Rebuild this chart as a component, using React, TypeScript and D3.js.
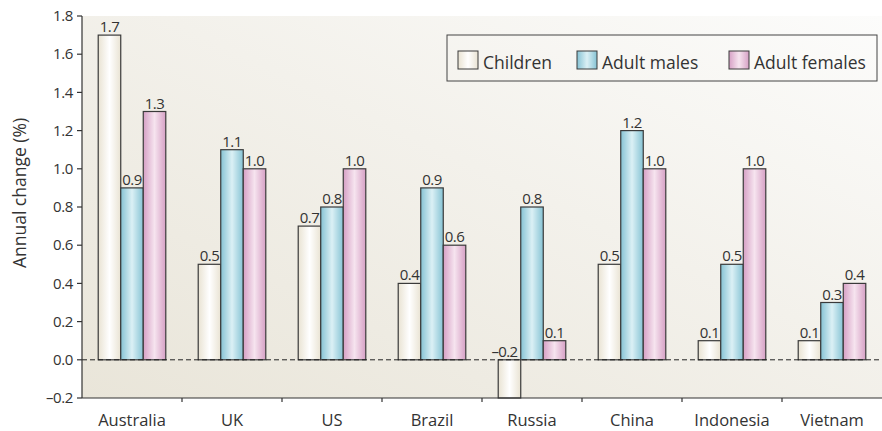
import React from "react";
import * as d3 from "d3";

const categories = ["Australia", "UK", "US", "Brazil", "Russia", "China", "Indonesia", "Vietnam"];
const seriesNames = ["Children", "Adult males", "Adult females"];
const children = [1.7, 0.5, 0.7, 0.4, -0.2, 0.5, 0.1, 0.1];
const adultMales = [0.9, 1.1, 0.8, 0.9, 0.8, 1.2, 0.5, 0.3];
const adultFemales = [1.3, 1.0, 1.0, 0.6, 0.1, 1.0, 1.0, 0.4];
const yTicks = [-0.2, 0, 0.2, 0.4, 0.6, 0.8, 1.0, 1.2, 1.4, 1.6, 1.8];

const W = 882;
const H = 431;
const M = { left: 82, right: 0, top: 16, bottom: 33 };
const FONT = "'Open Sans', 'Noto Sans', sans-serif";

const gradStops = [
  { edge: "#e9e3d3", mid: "#ffffff" },
  { edge: "#86c3d4", mid: "#dbf0f5" },
  { edge: "#d6a0c5", mid: "#f6e4ef" },
];

export default function App() {
  const series = [children, adultMales, adultFemales];
  const x0 = d3.scaleBand<string>().domain(categories).range([M.left, W - M.right]).paddingInner(0).paddingOuter(0);
  const x1 = d3.scaleBand<number>().domain([0, 1, 2]).range([0, x0.bandwidth()]).paddingOuter(0.72).paddingInner(0);
  const y = d3.scaleLinear().domain([-0.2, 1.8]).range([H - M.bottom, M.top]);
  const fmt = (v: number) => (v < 0 ? "\u2013" + Math.abs(v).toFixed(1) : v.toFixed(1));

  return (
    <svg width={W} height={H} style={{ position: "absolute", left: 0, top: 0 }} fontFamily={FONT}>
      <defs>
        <linearGradient id="bg" x1="0" y1="1" x2="1" y2="0">
          <stop offset="0%" stopColor="#e9e5d9" />
          <stop offset="55%" stopColor="#f3f1eb" />
          <stop offset="100%" stopColor="#fcfcfb" />
        </linearGradient>
        {gradStops.map((g, i) => (
          <linearGradient key={i} id={`bar${i}`} x1="0" y1="0" x2="1" y2="0">
            <stop offset="0%" stopColor={g.edge} />
            <stop offset="50%" stopColor={g.mid} />
            <stop offset="100%" stopColor={g.edge} />
          </linearGradient>
        ))}
      </defs>
      <rect x={M.left} y={M.top} width={W - M.left - M.right} height={H - M.bottom - M.top} fill="url(#bg)" />

      {/* bars */}
      {categories.map((c, ci) => (
        <g key={c} transform={`translate(${x0(c)},0)`}>
          {series.map((s, si) => {
            const v = s[ci];
            const top = y(Math.max(0, v));
            const bot = y(Math.min(0, v));
            const bx = x1(si)!;
            return (
              <g key={si}>
                <rect x={bx} y={top} width={x1.bandwidth()} height={bot - top} fill={`url(#bar${si})`} stroke="#3a3a3a" strokeWidth={1.2} />
                <text x={bx + x1.bandwidth() / 2 - (v < 0 ? 5 : 0)} y={(v < 0 ? y(0) : top) - 3} textAnchor="middle" fontSize={15} fill="#333" letterSpacing={-0.6}>
                  {fmt(v)}
                </text>
              </g>
            );
          })}
        </g>
      ))}

      {/* zero line */}
      <line x1={M.left} x2={W - M.right} y1={y(0)} y2={y(0)} stroke="#222" strokeWidth={1} strokeDasharray="5,3" />

      {/* y axis */}
      <line x1={M.left} x2={M.left} y1={M.top} y2={H - M.bottom} stroke="#333" strokeWidth={1.2} />
      {yTicks.map((t) => (
        <g key={t}>
          <line x1={M.left - 5} x2={M.left} y1={y(t)} y2={y(t)} stroke="#333" strokeWidth={1.2} />
          <text x={M.left - 9} y={y(t)} dy="0.35em" textAnchor="end" fontSize={15} fill="#333" letterSpacing={-0.4}>
            {fmt(t)}
          </text>
        </g>
      ))}
      <text transform={`translate(26,193) rotate(-90)`} textAnchor="middle" fontSize={17.5} fill="#333">
        Annual change (%)
      </text>

      {/* x axis */}
      <line x1={M.left} x2={W - M.right} y1={H - M.bottom} y2={H - M.bottom} stroke="#333" strokeWidth={1.2} />
      {categories.map((c, ci) => (
        <g key={c}>
          {ci > 0 && <line x1={x0(c)!} x2={x0(c)!} y1={H - M.bottom} y2={H - M.bottom + 4} stroke="#333" strokeWidth={1.2} />}
          <text x={x0(c)! + x0.bandwidth() / 2} y={426} textAnchor="middle" fontSize={16.5} fill="#333">
            {c}
          </text>
        </g>
      ))}

      {/* legend */}
      <g>
        <rect x={447} y={35} width={430} height={46} fill="none" stroke="#444" strokeWidth={1} />
        {seriesNames.map((n, i) => {
          const lx = [458, 577, 729][i];
          return (
            <g key={n}>
              <rect x={lx} y={51} width={20} height={18} fill={`url(#bar${i})`} stroke="#3a3a3a" strokeWidth={1} />
              <text x={lx + 25} y={69} fontSize={17.5} fill="#333">
                {n}
              </text>
            </g>
          );
        })}
      </g>
    </svg>
  );
}
